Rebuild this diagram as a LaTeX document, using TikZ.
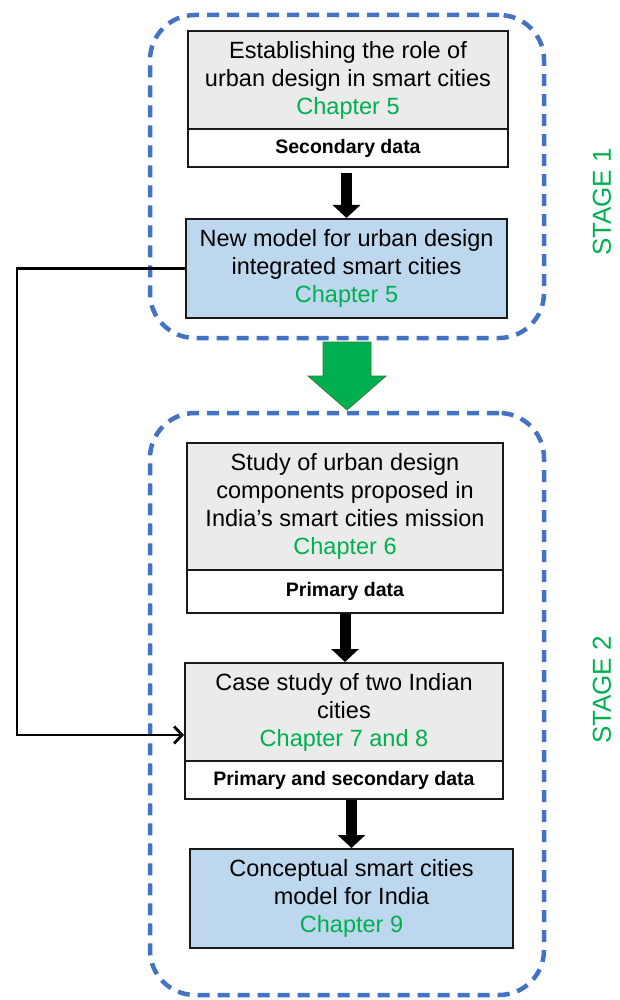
\documentclass[tikz,border=0pt]{standalone}
\usepackage{fontspec}
\setmainfont{Liberation Sans}
\usetikzlibrary{arrows.meta}
\definecolor{stageblue}{HTML}{4472C4}
\definecolor{chapgreen}{HTML}{00B050}
\definecolor{boxgray}{HTML}{EBEBEB}
\definecolor{boxblue}{HTML}{BDD7EE}
\definecolor{arrowedge}{HTML}{2E7D32}
\tikzset{
  stagebox/.style={draw=stageblue, line width=4.5pt, dash pattern=on 12pt off 8pt,
    rounded corners=45pt, minimum width=394pt, minimum height=#1},
  mainbox/.style={draw=black!90, line width=2pt, fill=#1, align=center,
    font=\fontsize{23.5}{28}\selectfont, inner sep=0pt},
  databox/.style={draw=black!90, line width=2pt, fill=white,
    font=\bfseries\fontsize{19.5}{23}\selectfont, inner sep=0pt},
  blockarrow/.style={line width=11pt, -{Triangle[width=27pt,length=13pt]}},
  linkline/.style={line width=2.8pt, -{Straight Barb[length=8pt,width=17pt]}},
  stagelabel/.style={rotate=90, text=chapgreen, font=\fontsize{26}{30}\selectfont}
}
\newcommand{\chap}[1]{\textcolor{chapgreen}{#1}}
\begin{document}
\begin{tikzpicture}[x=1pt,y=-1pt]
\useasboundingbox (0,0) rectangle (620,1000);

% dashed stage frames
\node[stagebox=323pt] (stageone) at (347,176.5) {};
\node[stagebox=582pt] (stagetwo) at (347,704) {};

% stage 1 boxes
\node[mainbox=boxgray, minimum width=320pt, minimum height=98pt] (establish) at (348,80)
  {Establishing the role of\\urban design in smart cities\\\chap{Chapter 5}};
\node[databox, minimum width=320pt, minimum height=38pt] (secdata) at (348,148) {Secondary data};
\node[mainbox=boxblue, minimum width=321pt, minimum height=99pt] (newmodel) at (346.5,268.5)
  {New model for urban design\\integrated smart cities\\\chap{Chapter 5}};

% stage 2 boxes
\node[mainbox=boxgray, minimum width=316pt, minimum height=127pt] (study) at (345,506.5)
  {Study of urban design\\components proposed in\\India’s smart cities mission\\\chap{Chapter 6}};
\node[databox, minimum width=316pt, minimum height=43pt] (primdata) at (345,591.5) {Primary data};
\node[mainbox=boxgray, minimum width=318pt, minimum height=98pt] (casestudy) at (344,712)
  {Case study of two Indian\\cities\\\chap{Chapter 7 and 8}};
\node[databox, minimum width=318pt, minimum height=38pt] (bothdata) at (344,780) {Primary and secondary data};
\node[mainbox=boxblue, minimum width=323pt, minimum height=99pt] (conceptual) at (351.5,898.5)
  {Conceptual smart cities\\model for India\\\chap{Chapter 9}};

% stage labels
\node[stagelabel] (labelone) at (602,202) {STAGE 1};
\node[stagelabel] (labeltwo) at (602,690) {STAGE 2};

% black flow arrows
\draw[blockarrow, shorten <=5pt] (newmodel.north |- secdata.south) -- (newmodel.north);
\draw[blockarrow] (primdata.south) -- (primdata.south |- casestudy.north);
\draw[blockarrow] (conceptual.north |- bothdata.south) -- (conceptual.north);

% green arrow between the stages
\coordinate (gtop) at (347,342);
\filldraw[fill=chapgreen, draw=arrowedge, line width=0.8pt]
  (gtop) ++(-24,0) -- ++(48,0) -- ++(0,34) -- ++(15,0) -- (347,410)
  -- ++(-39,-34) -- ++(15,0) -- cycle;

% feedback link from the new model to the case study
\coordinate (bend) at (17,735);
\draw[linkline] (newmodel.west) -- (newmodel.west -| bend) -- (bend) -- (bend -| casestudy.west);

\end{tikzpicture}
\end{document}
